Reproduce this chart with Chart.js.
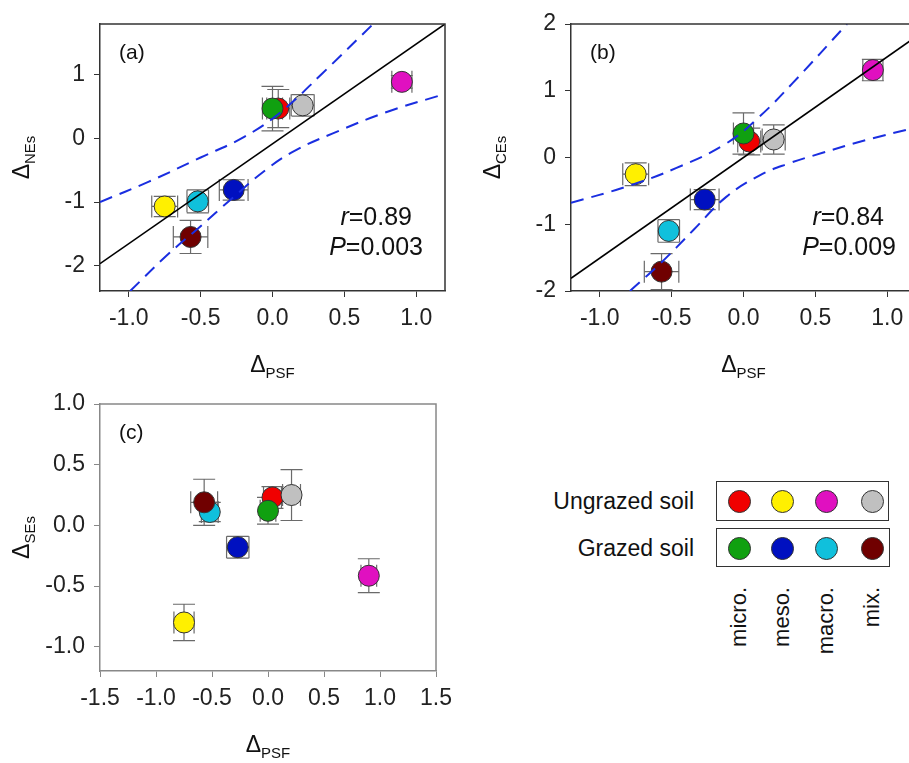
<!DOCTYPE html>
<html>
<head>
<meta charset="utf-8">
<script src="https://cdn.jsdelivr.net/npm/chart.js@4.4.0/dist/chart.umd.min.js"></script>
<style>
    html, body { margin: 0; padding: 0; background: #fff; overflow: hidden; width: 909px; height: 763px; }
    canvas { position: absolute; }
    #chartA { left: 0; top: 0; }
    #chartB { left: 460px; top: 0; }
    #chartC { left: 0; top: 380px; }
    .lg { position: absolute; font-family: "Liberation Sans", Arial, sans-serif; color: #111; }
    .lg-label { font-size: 23px; line-height: 26px; text-align: right; white-space: nowrap; }
    .lg-box { border: 1.5px solid #333; box-sizing: border-box; }
    .lg-dot { width: 23px; height: 23px; border: 1px solid #333; border-radius: 50%; box-sizing: border-box; }
    .lg-vert { font-size: 22px; line-height: 24px; writing-mode: vertical-rl; transform: rotate(180deg); white-space: nowrap; }
</style>
</head>
<body>
<canvas id="chartA" width="460" height="390"></canvas>
<canvas id="chartB" width="470" height="390"></canvas>
<canvas id="chartC" width="460" height="383"></canvas>
<div id="legend"></div>

<script>
// ---- data ----
const soilTypes = ['Ungrazed soil', 'Grazed soil'];
const faunaGroups = ['micro.', 'meso.', 'macro.', 'mix.'];
// point order: ungrazed micro/meso/macro/mix, then grazed micro/meso/macro/mix
const pointColors = ['#f00000', '#fff000', '#e010c0', '#c0c0c0', '#10a010', '#0010c0', '#10c0dc', '#700000'];

const psf    = [0.04, -0.75, 0.90, 0.21, 0.00, -0.27, -0.52, -0.57];
const psfErr = [0.08, 0.09, 0.07, 0.08, 0.07, 0.10, 0.075, 0.12];

const nes    = [0.47, -1.07, 0.89, 0.52, 0.47, -0.81, -0.99, -1.55];
const nesErr = [0.30, 0.16, 0.10, 0.17, 0.35, 0.16, 0.18, 0.26];

const ces    = [0.24, -0.25, 1.31, 0.27, 0.36, -0.63, -1.10, -1.71];
const cesErr = [0.20, 0.17, 0.16, 0.22, 0.31, 0.15, 0.17, 0.27];

const ses    = [0.23, -0.80, -0.415, 0.25, 0.12, -0.18, 0.11, 0.19];
const sesErr = [0.09, 0.15, 0.14, 0.21, 0.11, 0.09, 0.08, 0.19];

// regression line and 95% bands
const fitAX = [-1.2, 1.2];
const fitAY = [-1.97, 1.80];
const upperAX = [-1.2, -0.86, -0.5, -0.2, 0.05, 0.35, 0.70];
const upperAY = [-1.0, -0.68, -0.30, 0.02, 0.40, 1.03, 1.80];
const lowerAX = [-0.99, -0.74, -0.51, -0.28, -0.05, 0.15, 0.42, 0.80, 1.2];
const lowerAY = [-2.4, -1.85, -1.40, -0.94, -0.50, -0.20, 0.08, 0.42, 0.70];

const fitBX = [-1.2, 1.2];
const fitBY = [-1.81, 1.81];
const upperBX = [-1.2, -0.82, -0.47, -0.12, 0.11, 0.34, 0.72];
const upperBY = [-0.68, -0.44, -0.16, 0.21, 0.61, 1.11, 2.0];
const lowerBX = [-0.79, -0.58, -0.35, -0.12, 0.11, 0.30, 0.55, 0.85, 1.2];
const lowerBY = [-2.0, -1.59, -1.09, -0.59, -0.27, -0.10, 0.07, 0.26, 0.45];

// tick labels
const ticksPsf = [-1.0, -0.5, 0.0, 0.5, 1.0];
const ticksPsfC = [-1.5, -1.0, -0.5, 0.0, 0.5, 1.0, 1.5];
const ticksNes = [-2, -1, 0, 1];
const ticksCes = [-2, -1, 0, 1, 2];
const ticksSes = [-1.0, -0.5, 0.0, 0.5, 1.0];

const FONT = '"Liberation Sans", Arial, sans-serif';

function toXY(xs, ys) {
    return xs.map((v, i) => ({x: v, y: ys[i]}));
}

function drawDelta(ctx, sub, cx, cy, rotated) {
    ctx.save();
    ctx.translate(cx, cy);
    if (rotated)
        ctx.rotate(-Math.PI / 2);
    ctx.fillStyle = '#111';
    ctx.textBaseline = 'alphabetic';
    ctx.textAlign = 'left';
    ctx.font = '23px ' + FONT;
    let w1 = ctx.measureText('\u0394').width;
    ctx.font = '15px ' + FONT;
    let w2 = ctx.measureText(sub).width;
    let start = -(w1 + w2) / 2;
    ctx.font = '23px ' + FONT;
    ctx.fillText('\u0394', start, 0);
    ctx.font = '15px ' + FONT;
    ctx.fillText(sub, start + w1, 6);
    ctx.restore();
}

function drawStat(ctx, italic, rest, right, middle) {
    ctx.save();
    ctx.textBaseline = 'middle';
    ctx.textAlign = 'left';
    ctx.fillStyle = '#111';
    ctx.font = '25px ' + FONT;
    let w2 = ctx.measureText(rest).width;
    ctx.font = 'italic 25px ' + FONT;
    let w1 = ctx.measureText(italic).width;
    ctx.fillText(italic, right - w1 - w2, middle);
    ctx.font = '25px ' + FONT;
    ctx.fillText(rest, right - w2, middle);
    ctx.restore();
}

function panelPlugin(p) {
    return {
        id: 'panelDecor',
        beforeDatasetsDraw(chart) {
            let ctx = chart.ctx;
            let sx = chart.scales.x;
            let sy = chart.scales.y;
            let cap = 11;

            ctx.save();
            ctx.strokeStyle = '#6a6a6a';
            ctx.lineWidth = 1.2;
            for (let i = 0; i < p.xs.length; i++) {
                let px = sx.getPixelForValue(p.xs[i]);
                let py = sy.getPixelForValue(p.ys[i]);
                let x0 = sx.getPixelForValue(p.xs[i] - p.xErr[i]);
                let x1 = sx.getPixelForValue(p.xs[i] + p.xErr[i]);
                let y0 = sy.getPixelForValue(p.ys[i] - p.yErr[i]);
                let y1 = sy.getPixelForValue(p.ys[i] + p.yErr[i]);
                ctx.beginPath();
                ctx.moveTo(x0, py); ctx.lineTo(x1, py);
                ctx.moveTo(x0, py - cap); ctx.lineTo(x0, py + cap);
                ctx.moveTo(x1, py - cap); ctx.lineTo(x1, py + cap);
                ctx.moveTo(px, y0); ctx.lineTo(px, y1);
                ctx.moveTo(px - cap, y0); ctx.lineTo(px + cap, y0);
                ctx.moveTo(px - cap, y1); ctx.lineTo(px + cap, y1);
                ctx.stroke();
            }
            ctx.restore();
        },
        afterDraw(chart) {
            let ctx = chart.ctx;
            let area = chart.chartArea;

            // top and right frame
            ctx.save();
            ctx.strokeStyle = p.axisColor;
            ctx.lineWidth = 1.5;
            ctx.beginPath();
            ctx.moveTo(area.left, area.top);
            ctx.lineTo(area.right, area.top);
            ctx.lineTo(area.right, area.bottom);
            ctx.stroke();
            ctx.restore();

            // panel letter
            ctx.save();
            ctx.font = '21px ' + FONT;
            ctx.fillStyle = '#111';
            ctx.textBaseline = 'middle';
            ctx.fillText(p.letter, area.left + 19, area.top + 29);
            ctx.restore();

            if (p.stats) {
                drawStat(ctx, 'r', '=' + p.stats[0], p.statRight[0], 218);
                drawStat(ctx, 'P', '=' + p.stats[1], p.statRight[1], 248);
            }

            drawDelta(ctx, 'PSF', (area.left + area.right) / 2, area.bottom + 81, false);
            drawDelta(ctx, p.yName, area.left - 71, (area.top + area.bottom) / 2, true);
        }
    };
}

function makeScales(p) {
    let tickFont = {family: FONT, size: 23};
    return {
        x: {
            type: 'linear',
            min: p.xMin,
            max: p.xMax,
            afterBuildTicks: s => { s.ticks = p.xTicks.map(v => ({value: v})); },
            afterFit: s => { s.height = p.xAxisHeight; },
            grid: {drawOnChartArea: false, drawTicks: true, tickLength: 6, color: p.axisColor},
            border: {color: p.axisColor, width: 1.5},
            ticks: {
                font: tickFont, color: '#222', padding: 8, autoSkip: false, maxRotation: 0,
                callback: v => v.toFixed(1)
            }
        },
        y: {
            type: 'linear',
            min: p.yMin,
            max: p.yMax,
            afterBuildTicks: s => { s.ticks = p.yTicks.map(v => ({value: v})); },
            afterFit: s => { s.width = p.yAxisWidth; },
            grid: {drawOnChartArea: false, drawTicks: true, tickLength: 6, color: p.axisColor},
            border: {color: p.axisColor, width: 1.5},
            ticks: {
                font: tickFont, color: '#222', padding: 9, autoSkip: false,
                callback: v => v.toFixed(p.yDigits)
            }
        }
    };
}

function makeDatasets(p) {
    let sets = [{
        data: toXY(p.xs, p.ys),
        pointRadius: 10.5,
        pointHoverRadius: 10.5,
        pointBackgroundColor: pointColors,
        pointBorderColor: '#333',
        pointBorderWidth: 1,
        order: 2
    }];

    if (p.fit) {
        sets.push({
            data: toXY(p.fit[0], p.fit[1]),
            showLine: true, pointRadius: 0, borderColor: '#000', borderWidth: 1.6, order: 0
        });
        for (let band of p.bands) {
            sets.push({
                data: toXY(band[0], band[1]),
                showLine: true, pointRadius: 0, borderColor: '#1a2ee0', borderWidth: 2,
                borderDash: [13, 8], tension: 0.4, order: 0
            });
        }
    }
    return sets;
}

function setPanel(canvasId, p) {
    let ctx = document.getElementById(canvasId).getContext('2d');

    return new Chart(ctx, {
        type: 'scatter',
        data: {datasets: makeDatasets(p)},
        options: {
            responsive: false,
            animation: false,
            layout: {padding: {top: 24, right: p.padRight, left: 0, bottom: 0}},
            plugins: {legend: {display: false}, tooltip: {enabled: false}},
            scales: makeScales(p)
        },
        plugins: [panelPlugin(p)]
    });
}

setPanel('chartA', {
    letter: '(a)', yName: 'NEs',
    xs: psf, xErr: psfErr, ys: nes, yErr: nesErr,
    xMin: -1.2, xMax: 1.2, yMin: -2.4, yMax: 1.8,
    xTicks: ticksPsf, yTicks: ticksNes, yDigits: 0,
    xAxisHeight: 99, yAxisWidth: 100, padRight: 15, axisColor: '#333',
    fit: [fitAX, fitAY], bands: [[upperAX, upperAY], [lowerAX, lowerAY]],
    stats: ['0.89', '0.003'], statRight: [412, 423]
});

setPanel('chartB', {
    letter: '(b)', yName: 'CEs',
    xs: psf, xErr: psfErr, ys: ces, yErr: cesErr,
    xMin: -1.2, xMax: 1.2, yMin: -2, yMax: 2,
    xTicks: ticksPsf, yTicks: ticksCes, yDigits: 0,
    xAxisHeight: 99, yAxisWidth: 111, padRight: 14, axisColor: '#333',
    fit: [fitBX, fitBY], bands: [[upperBX, upperBY], [lowerBX, lowerBY]],
    stats: ['0.84', '0.009'], statRight: [424, 436]
});

setPanel('chartC', {
    letter: '(c)', yName: 'SEs',
    xs: psf, xErr: psfErr, ys: ses, yErr: sesErr,
    xMin: -1.5, xMax: 1.5, yMin: -1.2, yMax: 1.0,
    xTicks: ticksPsfC, yTicks: ticksSes, yDigits: 1,
    xAxisHeight: 92, yAxisWidth: 100, padRight: 15, axisColor: '#888'
});

// ---- legend ----
function buildLegend() {
    let root = document.getElementById('legend');
    let dotX = [739, 782, 826, 872];
    let rowY = [501, 548];
    let boxes = [[716, 481, 173, 40], [716, 528, 174, 39]];
    let html = '';

    soilTypes.forEach((name, r) => {
        let b = boxes[r];
        html += `<div class="lg lg-box" style="left:${b[0]}px;top:${b[1]}px;width:${b[2]}px;height:${b[3]}px"></div>`;
        html += `<div class="lg lg-label" style="right:${909 - 694}px;top:${rowY[r] - 13}px">${name}</div>`;
        faunaGroups.forEach((g, c) => {
            let color = pointColors[r * 4 + c];
            html += `<div class="lg lg-dot" style="left:${dotX[c] - 11.5}px;top:${rowY[r] - 11.5}px;background:${color}"></div>`;
        });
    });
    faunaGroups.forEach((g, c) => {
        html += `<div class="lg lg-vert" style="left:${dotX[c] - 12}px;top:587px">${g}</div>`;
    });
    root.innerHTML = html;
}

buildLegend();
</script>
</body>
</html>
